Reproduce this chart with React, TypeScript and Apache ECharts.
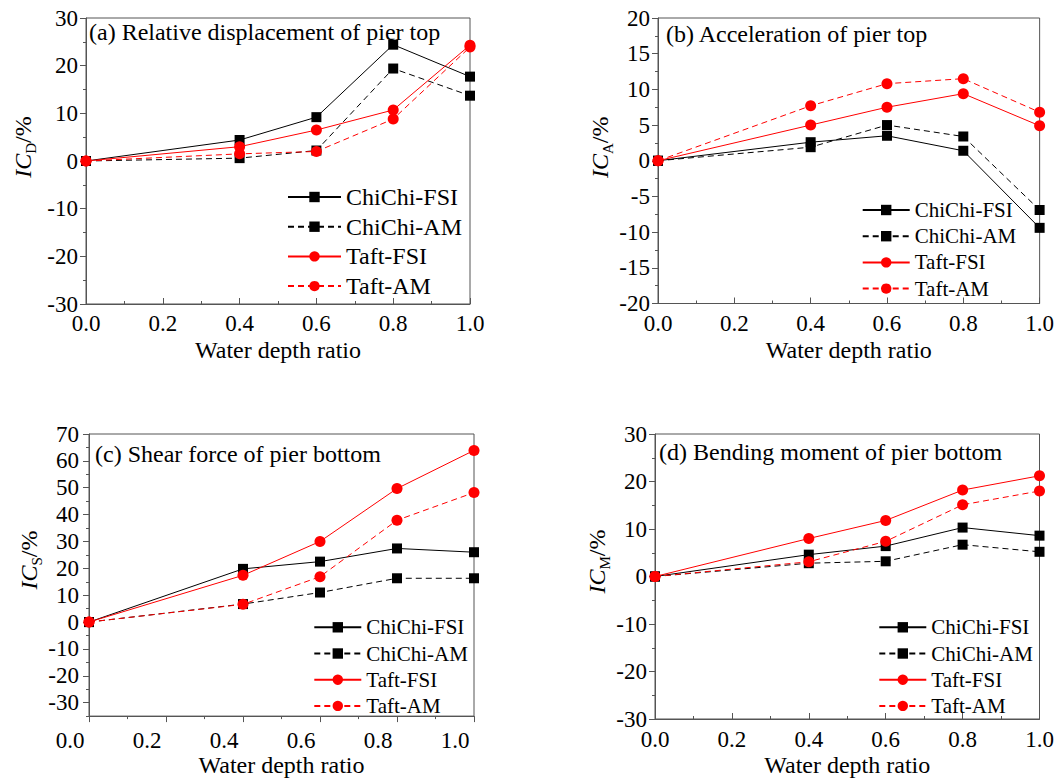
import React, { useEffect, useRef } from "react";
import * as echarts from "echarts";

const FONT = "Liberation Serif";

const depthRatio = [0, 0.4, 0.6, 0.8, 1.0];
const seriesNames = ["ChiChi-FSI", "ChiChi-AM", "Taft-FSI", "Taft-AM"];

// (a) Relative displacement of pier top
const aChiChiFSI = [0, 4.4, 9.2, 24.4, 17.7];
const aChiChiAM = [0, 0.6, 2.2, 19.4, 13.7];
const aTaftFSI = [0, 3.0, 6.5, 10.7, 24.3];
const aTaftAM = [0, 1.5, 2.0, 8.8, 23.9];
// (b) Acceleration of pier top
const bChiChiFSI = [0, 2.6, 3.5, 1.4, -9.4];
const bChiChiAM = [0, 1.9, 5.0, 3.4, -6.9];
const bTaftFSI = [0, 5.0, 7.5, 9.4, 4.9];
const bTaftAM = [0, 7.7, 10.8, 11.5, 6.8];
// (c) Shear force of pier bottom
const cChiChiFSI = [0, 19.8, 22.5, 27.4, 26.0];
const cChiChiAM = [0, 6.7, 11.0, 16.3, 16.3];
const cTaftFSI = [0, 17.4, 30.0, 49.7, 63.9];
const cTaftAM = [0, 6.6, 16.9, 37.9, 48.2];
// (d) Bending moment of pier bottom
const dChiChiFSI = [0, 4.6, 6.4, 10.3, 8.6];
const dChiChiAM = [0, 2.8, 3.2, 6.7, 5.2];
const dTaftFSI = [0, 8.0, 11.8, 18.2, 21.2];
const dTaftAM = [0, 3.1, 7.4, 15.1, 18.0];

const panelTitles = [
  "(a) Relative displacement of pier top",
  "(b) Acceleration of pier top",
  "(c) Shear force of pier bottom",
  "(d) Bending moment of pier bottom",
];
const ySubscripts = ["D", "A", "S", "M"];
const xAxisTitle = "Water depth ratio";

const cMajorTicks = [-30, -20, -10, 0, 10, 20, 30, 40, 50, 60, 70];
const cMinorTicks = [-35, -25, -15, -5, 5, 15, 25, 35, 45, 55, 65];

const panelData = [
  [aChiChiFSI, aChiChiAM, aTaftFSI, aTaftAM],
  [bChiChiFSI, bChiChiAM, bTaftFSI, bTaftAM],
  [cChiChiFSI, cChiChiAM, cTaftFSI, cTaftAM],
  [dChiChiFSI, dChiChiAM, dTaftFSI, dTaftAM],
];

const grids = [
  { left: 86, top: 18, width: 384, height: 286 },
  { left: 658, top: 18, width: 385, height: 285.5 },
  { left: 89, top: 434, width: 385, height: 286.5 },
  { left: 655, top: 434, width: 384.5, height: 285.5 },
];

const AXIS_COLOR = "#555";

function App() {
  const ref = useRef<HTMLDivElement>(null);
  useEffect(() => {
    document.body.style.margin = "0";
    const chart = echarts.init(ref.current!, null, { renderer: "svg" });

    const yRanges = [
      { min: -30, max: 30, interval: 10 },
      { min: -20, max: 20, interval: 5 },
      { min: -35, max: 70, interval: 5 },
      { min: -30, max: 30, interval: 10 },
    ];
    const nameGaps = [48, 42, 40, 41];
    const namePads = [28, 27, 30, 30];
    const labelMargins = [8, 8, 13, 9];

    const xAxis = grids.map((g, i) => ({
      type: "value",
      gridIndex: i,
      min: 0,
      max: 1,
      interval: 0.2,
      name: xAxisTitle,
      nameLocation: "middle",
      nameGap: 34,
      nameTextStyle: { fontFamily: FONT, fontSize: 24, color: "#000" },
      axisLine: { show: true, onZero: false, lineStyle: { color: AXIS_COLOR, width: 1 } },
      axisTick: { show: true, inside: i !== 2, length: 6, lineStyle: { color: AXIS_COLOR } },
      minorTick: { show: true, splitNumber: 2, length: 3, lineStyle: { color: AXIS_COLOR } },
      splitLine: { show: false },
      minorSplitLine: { show: false },
      axisLabel: {
        fontFamily: FONT,
        fontSize: 23,
        color: "#000",
        margin: labelMargins[i],
        showMinLabel: true,
        showMaxLabel: true,
        formatter: (v: number) => v.toFixed(1),
        ...(i === 2 ? { padding: [0, 38, 0, 0] } : {}),
      },
    }));

    const yAxis: any[] = grids.map((g, i) => {
      const r = yRanges[i];
      const base: any = {
        type: "value",
        gridIndex: i,
        min: r.min,
        max: r.max,
        name: `{i|IC}{s|${ySubscripts[i]}}{n|/%}`,
        nameLocation: "middle",
        nameGap: nameGaps[i],
        nameTextStyle: {
          padding: [0, 0, 0, namePads[i]],
          rich: {
            i: { fontFamily: FONT, fontSize: 24, fontStyle: "italic", color: "#000", lineHeight: 30 },
            s: { fontFamily: FONT, fontSize: 15, color: "#000", verticalAlign: "bottom", lineHeight: 16 },
            n: { fontFamily: FONT, fontSize: 24, color: "#000", lineHeight: 30 },
          },
        },
        axisLine: { show: true, onZero: false, lineStyle: { color: AXIS_COLOR, width: 1 } },
        axisTick: { show: true, inside: false, length: 6, lineStyle: { color: AXIS_COLOR } },
        splitLine: { show: false },
        minorSplitLine: { show: false },
        axisLabel: {
          fontFamily: FONT,
          fontSize: 23,
          color: "#000",
          margin: 8,
          showMinLabel: true,
          showMaxLabel: true,
        },
      };
      if (i === 2) {
        base.axisTick.customValues = cMajorTicks;
        base.axisLabel.customValues = cMajorTicks;
        base.axisLabel.margin = 10;
        base.minorTick = { show: false };
      } else {
        base.interval = r.interval;
        base.minorTick = { show: true, splitNumber: 2, length: 3, lineStyle: { color: AXIS_COLOR } };
      }
      return base;
    });
    // minor ticks for panel (c)
    yAxis.push({
      type: "value",
      gridIndex: 2,
      position: "left",
      min: -35,
      max: 70,
      axisLine: { show: false },
      axisTick: { show: true, inside: false, length: 3, customValues: cMinorTicks, lineStyle: { color: AXIS_COLOR } },
      axisLabel: { show: false },
      splitLine: { show: false },
    });

    const series: any[] = [];
    panelData.forEach((set, p) => {
      set.forEach((vals, k) => {
        const isRed = k >= 2;
        const isDash = k % 2 === 1;
        const color = isRed ? "#ff0000" : "#000000";
        series.push({
          type: "line",
          name: seriesNames[k],
          xAxisIndex: p,
          yAxisIndex: p,
          data: depthRatio.map((x, j) => [x, vals[j]]),
          symbol: isRed ? "circle" : "rect",
          symbolSize: isRed ? 11 : 10,
          lineStyle: { color, width: 1, type: isDash ? [6, 4] : "solid" },
          itemStyle: { color, borderWidth: 0 },
          emphasis: { disabled: true },
          clip: false,
        });
      });
    });

    const legendCfg = [
      { left: 287, top: 185, itemWidth: 53, fontSize: 24, gap: 5.7 },
      { left: 861.7, top: 199.5, itemWidth: 47, fontSize: 21, gap: 5.2 },
      { left: 313.3, top: 616.8, itemWidth: 47, fontSize: 21, gap: 5.2 },
      { left: 878.3, top: 616.8, itemWidth: 47, fontSize: 21, gap: 5.2 },
    ];
    const legend = legendCfg.map((l) => ({
      orient: "vertical",
      left: l.left,
      top: l.top,
      padding: 0,
      itemWidth: l.itemWidth,
      itemHeight: 13,
      itemGap: l.gap,
      selectedMode: false,
      data: seriesNames,
      textStyle: { fontFamily: FONT, fontSize: l.fontSize, color: "#000" },
    }));

    const titlePos = [
      { left: 89, top: 20 },
      { left: 666, top: 22 },
      { left: 95, top: 442 },
      { left: 659, top: 440 },
    ];
    const title = panelTitles.map((t, i) => ({
      text: t,
      left: titlePos[i].left,
      top: titlePos[i].top,
      padding: 0,
      textStyle: { fontFamily: FONT, fontSize: 24, fontWeight: "normal", color: "#000" },
    }));

    chart.setOption({
      animation: false,
      backgroundColor: "#fff",
      title,
      legend,
      grid: grids.map((g) => ({
        ...g,
        show: true,
        borderColor: AXIS_COLOR,
        borderWidth: 1,
        backgroundColor: "transparent",
        containLabel: false,
      })),
      xAxis,
      yAxis,
      series,
    });
    return () => chart.dispose();
  }, []);
  return <div ref={ref} style={{ width: 1057, height: 778 }} />;
}

export default App;
